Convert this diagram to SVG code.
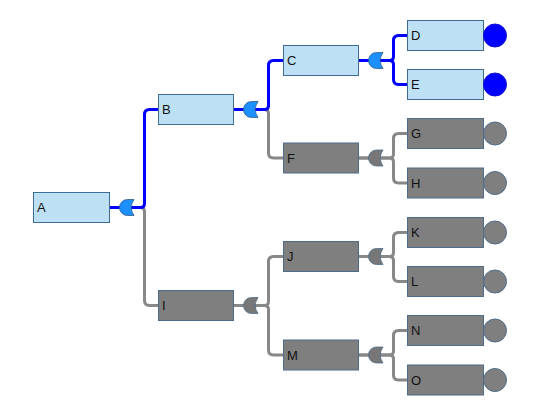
<svg xmlns="http://www.w3.org/2000/svg" xmlns:xlink="http://www.w3.org/1999/xlink" width="541" height="408" viewBox="0 0 541 408">
<style>
.bg{fill:#ffffff}
.nb{fill:#BEE0F5;stroke:#3D6C96;stroke-width:1}
.ng{fill:#7F7F7F;stroke:#4E6D8C;stroke-width:1}
.t{font-family:"Liberation Sans",Arial,sans-serif;font-size:13px;fill:#111}
.cb{fill:none;stroke:#0000FF;stroke-width:3}
.cg{fill:none;stroke:#888888;stroke-width:3}
.gb{fill:#1E8FFF;stroke:#2D5E8C;stroke-width:0.8}
.gg{fill:#777777;stroke:#4E6D8C;stroke-width:0.8}
.lb{fill:#0000FF;stroke:#1010D0;stroke-width:1}
.lg{fill:#7F7F7F;stroke:#506E8C;stroke-width:1}
</style>
<defs>
<path id="gate" d="M8,-8 A8,8 0 0 0 8,8 L14.5,8 Q9,0 14.5,-8 Z"/>
</defs>
<rect class="bg" x="0" y="0" width="541" height="408"/>
<g id="connectors">
<path class="cg" d="M109.5,207.5 H140.5 Q144.5,207.5 144.5,211.5 V300.5 Q144.5,305.5 149.5,305.5 H158.5"/>
<path class="cb" d="M109.5,207.5 H140.5 Q144.5,207.5 144.5,203.5 V114.5 Q144.5,109.5 149.5,109.5 H158.5"/>
<path class="cg" d="M233.5,109.5 H264.5 Q268.5,109.5 268.5,113.5 V153 Q268.5,158 273.5,158 H283.5"/>
<path class="cb" d="M233.5,109.5 H264.5 Q268.5,109.5 268.5,105.5 V65.5 Q268.5,60.5 273.5,60.5 H283.5"/>
<path class="cg" d="M233.5,305.5 H264.5 Q268.5,305.5 268.5,301.5 V261.5 Q268.5,256.5 273.5,256.5 H283.5"/>
<path class="cg" d="M233.5,305.5 H264.5 Q268.5,305.5 268.5,309.5 V350 Q268.5,355 273.5,355 H283.5"/>
<path class="cb" d="M358.5,60.5 H389.5 Q393.5,60.5 393.5,56.5 V40.5 Q393.5,35.5 398.5,35.5 H407.5"/>
<path class="cb" d="M358.5,60.5 H389.5 Q393.5,60.5 393.5,64.5 V79.5 Q393.5,84.5 398.5,84.5 H407.5"/>
<path class="cg" d="M358.5,158 H389.5 Q393.5,158 393.5,154 V138.5 Q393.5,133.5 398.5,133.5 H407.5"/>
<path class="cg" d="M358.5,158 H389.5 Q393.5,158 393.5,162 V178 Q393.5,183 398.5,183 H407.5"/>
<path class="cg" d="M358.5,256.5 H389.5 Q393.5,256.5 393.5,252.5 V237.5 Q393.5,232.5 398.5,232.5 H407.5"/>
<path class="cg" d="M358.5,256.5 H389.5 Q393.5,256.5 393.5,260.5 V276.5 Q393.5,281.5 398.5,281.5 H407.5"/>
<path class="cg" d="M358.5,355 H389.5 Q393.5,355 393.5,351 V335.5 Q393.5,330.5 398.5,330.5 H407.5"/>
<path class="cg" d="M358.5,355 H389.5 Q393.5,355 393.5,359 V375 Q393.5,380 398.5,380 H407.5"/>
</g>
<g id="node-A"><rect class="nb" x="33.5" y="192.5" width="76" height="30"/><text class="t" x="37" y="212">A</text><use href="#gate" class="gb" x="119.5" y="207.5"/></g>
<g id="node-B"><rect class="nb" x="158.5" y="94.5" width="75" height="30"/><text class="t" x="162" y="114">B</text><use href="#gate" class="gb" x="243.5" y="109.5"/></g>
<g id="node-I"><rect class="ng" x="158.5" y="290.5" width="75" height="30"/><text class="t" x="162" y="310">I</text><use href="#gate" class="gg" x="243.5" y="305.5"/></g>
<g id="node-C"><rect class="nb" x="283.5" y="45.5" width="75" height="30"/><text class="t" x="287" y="65">C</text><use href="#gate" class="gb" x="368.5" y="60.5"/></g>
<g id="node-F"><rect class="ng" x="283.5" y="143" width="75" height="30"/><text class="t" x="287" y="162.5">F</text><use href="#gate" class="gg" x="368.5" y="158"/></g>
<g id="node-J"><rect class="ng" x="283.5" y="241.5" width="75" height="30"/><text class="t" x="287" y="261">J</text><use href="#gate" class="gg" x="368.5" y="256.5"/></g>
<g id="node-M"><rect class="ng" x="283.5" y="340" width="75" height="30"/><text class="t" x="287" y="359.5">M</text><use href="#gate" class="gg" x="368.5" y="355"/></g>
<g id="node-D"><rect class="nb" x="407.5" y="20.5" width="76" height="30"/><text class="t" x="411" y="40">D</text><circle class="lb" cx="495" cy="35.5" r="11.5"/></g>
<g id="node-E"><rect class="nb" x="407.5" y="69.5" width="76" height="30"/><text class="t" x="411" y="89">E</text><circle class="lb" cx="495" cy="84.5" r="11.5"/></g>
<g id="node-G"><rect class="ng" x="407.5" y="118.5" width="76" height="30"/><text class="t" x="411" y="138">G</text><circle class="lg" cx="495" cy="133.5" r="11.5"/></g>
<g id="node-H"><rect class="ng" x="407.5" y="168" width="76" height="30"/><text class="t" x="411" y="187.5">H</text><circle class="lg" cx="495" cy="183" r="11.5"/></g>
<g id="node-K"><rect class="ng" x="407.5" y="217.5" width="76" height="30"/><text class="t" x="411" y="237">K</text><circle class="lg" cx="495" cy="232.5" r="11.5"/></g>
<g id="node-L"><rect class="ng" x="407.5" y="266.5" width="76" height="30"/><text class="t" x="411" y="286">L</text><circle class="lg" cx="495" cy="281.5" r="11.5"/></g>
<g id="node-N"><rect class="ng" x="407.5" y="315.5" width="76" height="30"/><text class="t" x="411" y="335">N</text><circle class="lg" cx="495" cy="330.5" r="11.5"/></g>
<g id="node-O"><rect class="ng" x="407.5" y="365" width="76" height="30"/><text class="t" x="411" y="384.5">O</text><circle class="lg" cx="495" cy="380" r="11.5"/></g>
</svg>
